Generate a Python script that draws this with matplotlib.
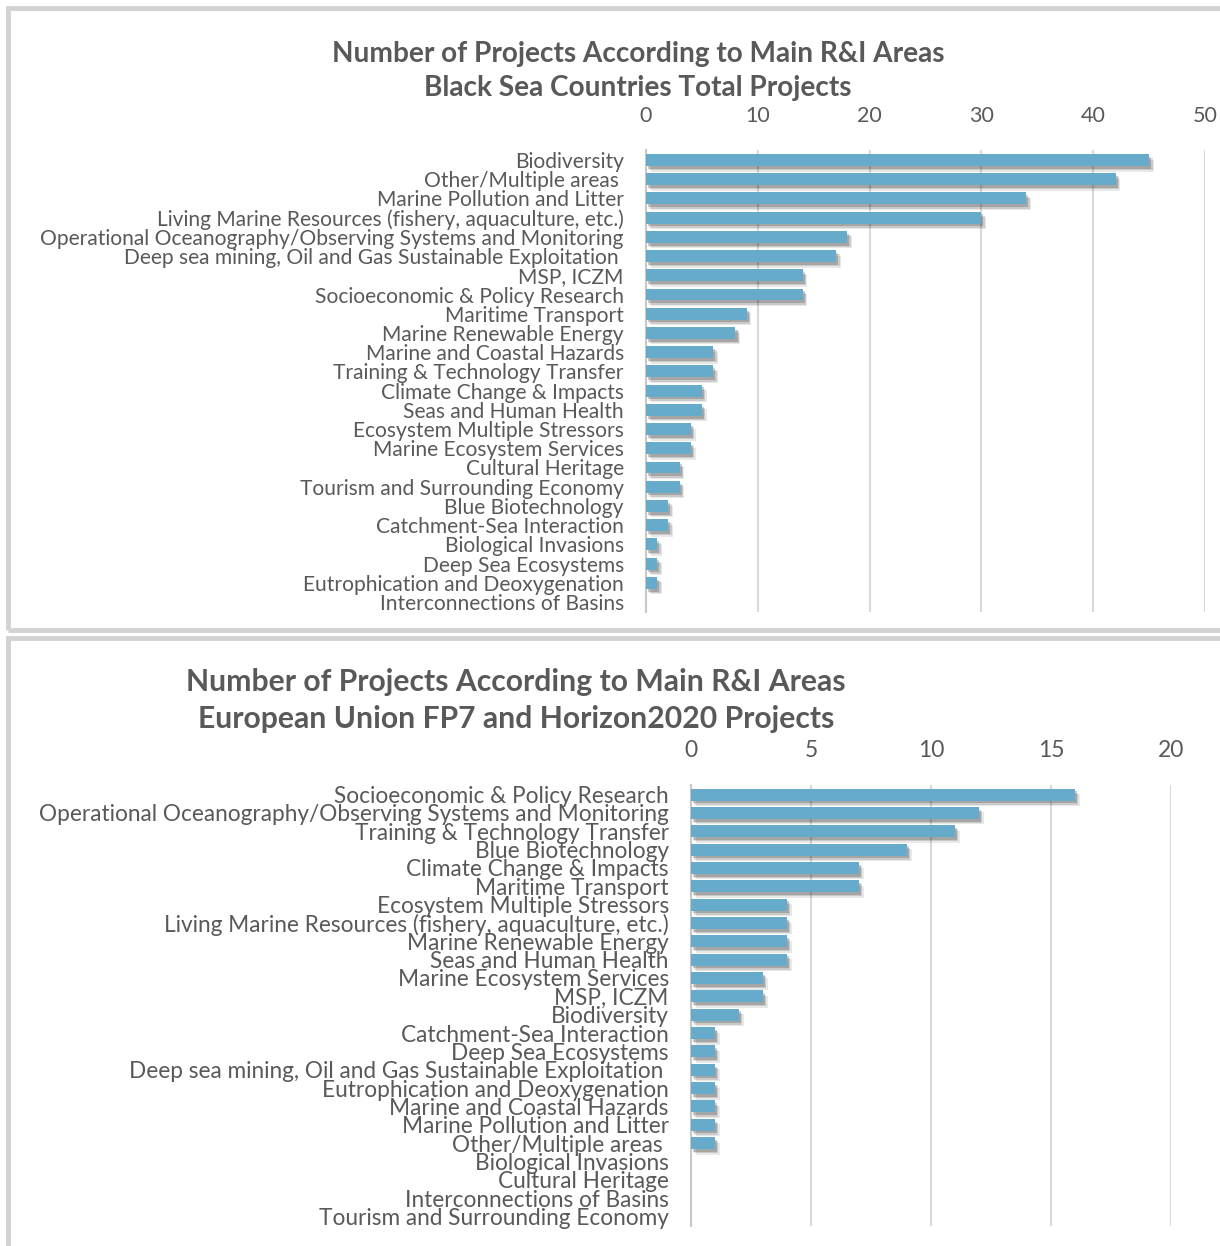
import matplotlib
matplotlib.use("Agg")
import matplotlib.pyplot as plt
import matplotlib.patheffects as pe
from matplotlib.patches import Rectangle

# ---- data: Black Sea countries ----
bs_areas = ["Biodiversity", "Other/Multiple areas ", "Marine Pollution and Litter",
            "Living Marine Resources (fishery, aquaculture, etc.)",
            "Operational Oceanography/Observing Systems and Monitoring",
            "Deep sea mining, Oil and Gas Sustainable Exploitation ",
            "MSP, ICZM", "Socioeconomic & Policy Research", "Maritime Transport",
            "Marine Renewable Energy", "Marine and Coastal Hazards",
            "Training & Technology Transfer", "Climate Change & Impacts",
            "Seas and Human Health", "Ecosystem Multiple Stressors",
            "Marine Ecosystem Services", "Cultural Heritage",
            "Tourism and Surrounding Economy", "Blue Biotechnology",
            "Catchment-Sea Interaction", "Biological Invasions",
            "Deep Sea Ecosystems", "Eutrophication and Deoxygenation",
            "Interconnections of Basins"]
bs_counts = [45, 42, 34, 30, 18, 17, 14, 14, 9, 8, 6, 6, 5, 5, 4, 4, 3, 3, 2, 2, 1, 1, 1, 0]

# ---- data: EU FP7 / H2020 ----
eu_areas = ["Socioeconomic & Policy Research",
            "Operational Oceanography/Observing Systems and Monitoring",
            "Training & Technology Transfer", "Blue Biotechnology",
            "Climate Change & Impacts", "Maritime Transport",
            "Ecosystem Multiple Stressors",
            "Living Marine Resources (fishery, aquaculture, etc.)",
            "Marine Renewable Energy", "Seas and Human Health",
            "Marine Ecosystem Services", "MSP, ICZM", "Biodiversity",
            "Catchment-Sea Interaction", "Deep Sea Ecosystems",
            "Deep sea mining, Oil and Gas Sustainable Exploitation ",
            "Eutrophication and Deoxygenation", "Marine and Coastal Hazards",
            "Marine Pollution and Litter", "Other/Multiple areas ",
            "Biological Invasions", "Cultural Heritage",
            "Interconnections of Basins", "Tourism and Surrounding Economy"]
eu_counts = [16, 12, 11, 9, 7, 7, 4, 4, 4, 4, 3, 3, 2, 1, 1, 1, 1, 1, 1, 1, 0, 0, 0, 0]

W, H = 1220, 1246
BAR = "#67abcb"
TXT = "#595959"
plt.rcParams['font.family'] = ['Lato', 'DejaVu Sans']

fig = plt.figure(figsize=(W / 100, H / 100), dpi=100)

# panel frames
for (x0, y0, x1, y1) in [(8, 8, 1222, 630), (8, 638, 1222, 1250)]:
    fig.patches.append(Rectangle((x0 / W, 1 - y1 / H), (x1 - x0) / W, (y1 - y0) / H,
                                 transform=fig.transFigure, fill=False,
                                 edgecolor="#d2d2d2", linewidth=3.5))

# soft drop shadow, built from a few offset layers
shadow = [pe.SimplePatchShadow(offset=(o, -o - 0.5), shadow_rgbFace="#222222", alpha=a)
          for o, a in [(3.5, 0.10), (2.5, 0.15), (1.5, 0.22)]] + [pe.Normal()]


def panel(rect, areas, counts, xmax, step, title, title_xy, hbar, lsize, tsize, titlesize):
    ax = fig.add_axes(rect)
    ypos = list(range(len(areas)))
    bars = ax.barh(ypos, counts, height=hbar, color=BAR, zorder=3)
    for b in bars:
        b.set_path_effects(shadow)
    ax.set_xlim(0, xmax)
    ax.set_ylim(len(areas) - 0.48, -0.52)
    ax.set_yticks(ypos)
    ax.set_yticklabels(areas, fontsize=lsize, color=TXT)
    ax.set_xticks(range(0, xmax + 1, step))
    ax.xaxis.tick_top()
    ax.tick_params(axis="x", labelsize=tsize, labelcolor=TXT, length=0, pad=17)
    ax.tick_params(axis="y", length=0, pad=16)
    ax.grid(axis="x", color="#d9d9d9", linewidth=1.5, zorder=0)
    for s in ["top", "right", "bottom"]:
        ax.spines[s].set_visible(False)
    ax.spines["left"].set_color("#c8c8c8")
    ax.spines["left"].set_linewidth(1.5)
    fig.text(title_xy[0] / W, 1 - title_xy[1] / H, title, ha="center", va="center",
             fontsize=titlesize, fontweight="bold", color=TXT, linespacing=1.42)
    return ax


panel([646 / W, 1 - 612 / H, 559 / W, 462 / H], bs_areas, bs_counts, 50, 10,
      "Number of Projects According to Main R&I Areas\nBlack Sea Countries Total Projects",
      (638, 71), 0.62, 15.1, 15.5, 20.2)
panel([691 / W, 1 - 1226 / H, 480 / W, 441 / H], eu_areas, eu_counts, 20, 5,
      "Number of Projects According to Main R&I Areas\nEuropean Union FP7 and Horizon2020 Projects",
      (516, 700.5), 0.65, 16.25, 16.5, 21.7)

fig.savefig("out.png", dpi=100)
